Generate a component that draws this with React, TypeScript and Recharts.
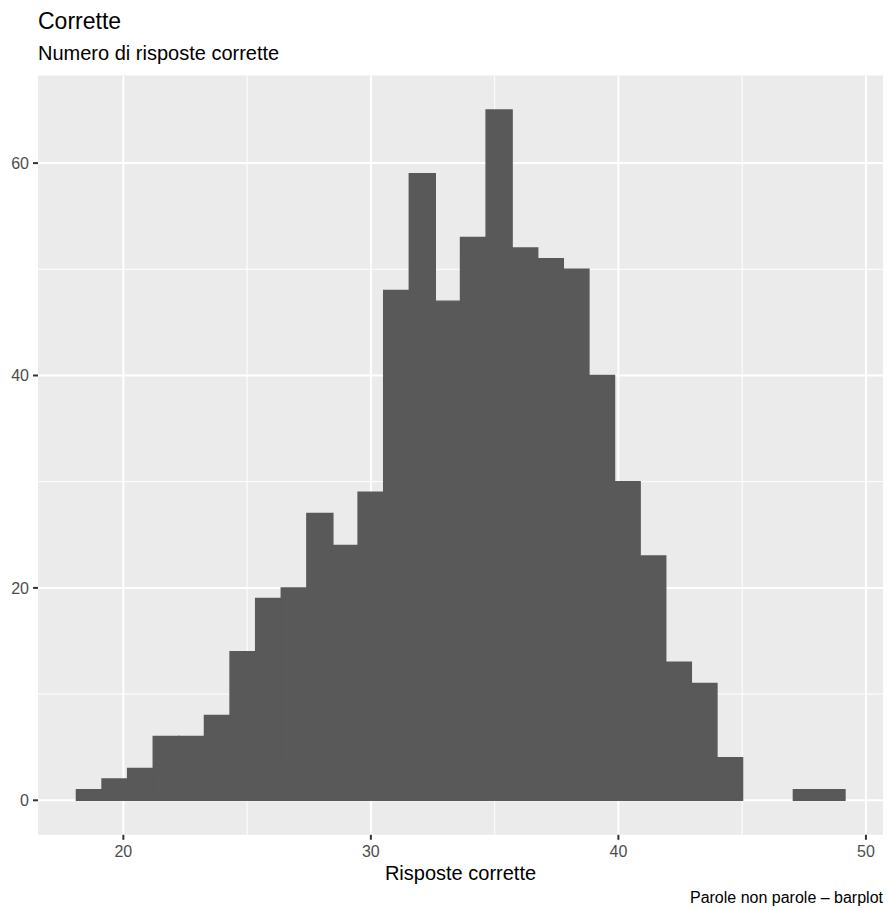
import { BarChart, Bar, XAxis, YAxis, CartesianGrid } from "recharts";

// histogram bins (ggplot default: 30 bins), centres of each bin
const BIN_CENTERS = [
  18.6207, 19.6552, 20.6897, 21.7241, 22.7586, 23.7931, 24.8276, 25.8621, 26.8966, 27.931,
  28.9655, 30.0, 31.0345, 32.069, 33.1034, 34.1379, 35.1724, 36.2069, 37.2414, 38.2759,
  39.3103, 40.3448, 41.3793, 42.4138, 43.4483, 44.4828, 45.5172, 46.5517, 47.5862, 48.6207,
];
const COUNTS = [
  1, 2, 3, 6, 6, 8, 14, 19, 20, 27, 24, 29, 48, 59, 47, 53, 65, 52, 51, 50, 40, 30, 23, 13,
  11, 4, 0, 0, 1, 1,
];

const X_TICKS = [20, 30, 40, 50];
const X_MINOR = [25, 35, 45];
const Y_TICKS = [0, 20, 40, 60];
const Y_MINOR = [10, 30, 50];

const TITLE = "Corrette";
const SUBTITLE = "Numero di risposte corrette";
const X_LABEL = "Risposte corrette";
const CAPTION = "Parole non parole \u2013 barplot";

const FONT = "'Liberation Sans', Arial, Helvetica, sans-serif";

const data = BIN_CENTERS.map((x, i) => ({ x, count: COUNTS[i] }));

export default function App() {
  return (
    <div
      style={{
        position: "absolute",
        left: 0,
        top: 0,
        width: 887,
        height: 909,
        background: "#FFFFFF",
        fontFamily: FONT,
      }}
    >
      <BarChart
        width={887}
        height={909}
        data={data}
        margin={{ top: 75.5, right: 4, bottom: 44.2, left: 0 }}
        barCategoryGap="0%"
        barGap={0}
      >
        <CartesianGrid
          fill="#EBEBEB"
          fillOpacity={1}
          stroke="#FFFFFF"
          strokeWidth={1}
          horizontalValues={Y_MINOR}
          verticalValues={X_MINOR}
        />
        <CartesianGrid
          stroke="#FFFFFF"
          strokeWidth={2}
          horizontalValues={Y_TICKS}
          verticalValues={X_TICKS}
        />
        <XAxis
          type="number"
          dataKey="x"
          domain={[16.5517, 50.6897]}
          allowDataOverflow
          ticks={X_TICKS}
          axisLine={false}
          tickSize={5}
          tickMargin={6}
          height={30}
          tickLine={{ stroke: "#333333", strokeWidth: 2 }}
          tick={{ fill: "#4D4D4D", fontSize: 16, fontFamily: FONT }}
        />
        <YAxis
          type="number"
          domain={[-3.25, 68.25]}
          allowDataOverflow
          ticks={Y_TICKS}
          axisLine={false}
          width={38}
          tickSize={5}
          tickMargin={4}
          tickLine={{ stroke: "#333333", strokeWidth: 2 }}
          tick={{ fill: "#4D4D4D", fontSize: 16, fontFamily: FONT }}
        />
        <Bar
          dataKey="count"
          fill="#595959"
          stroke="#595959"
          strokeWidth={1.4}
          isAnimationActive={false}
        />
      </BarChart>
      <svg
        width={887}
        height={909}
        style={{ position: "absolute", left: 0, top: 0, pointerEvents: "none" }}
      >
        <text x={38} y={29} fontSize={23} fill="#000000" fontFamily={FONT}>
          {TITLE}
        </text>
        <text x={38} y={60} fontSize={20} fill="#000000" fontFamily={FONT}>
          {SUBTITLE}
        </text>
        <text x={460.5} y={880} fontSize={20} fill="#000000" textAnchor="middle" fontFamily={FONT}>
          {X_LABEL}
        </text>
        <text x={883} y={903} fontSize={16} fill="#000000" textAnchor="end" fontFamily={FONT}>
          {CAPTION}
        </text>
      </svg>
    </div>
  );
}
